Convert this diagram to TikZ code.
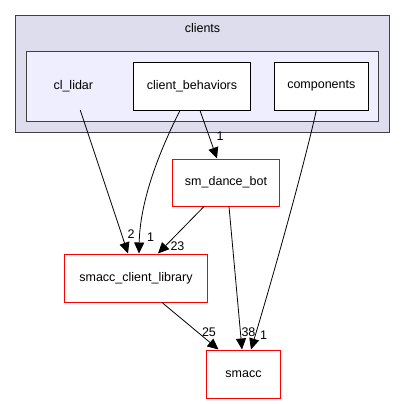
\documentclass[tikz,border=0pt]{standalone}
\usepackage{fontspec}
\setmainfont{Liberation Sans}
\usetikzlibrary{arrows.meta,calc}
\definecolor{outerfill}{HTML}{DDDDEE}
\definecolor{innerfill}{HTML}{EEEEFF}
\definecolor{clborder}{HTML}{404040}
\tikzset{
  lbl/.style={font=\fontsize{12.5bp}{14bp}\selectfont, inner sep=0pt},
  dirbox/.style={draw=black, fill=white, line width=1bp, inner sep=0pt, font=\fontsize{12.5bp}{14bp}\selectfont},
  redbox/.style={draw=red, fill=white, line width=1bp, inner sep=0pt, font=\fontsize{12.5bp}{14bp}\selectfont},
  cluster/.style={draw=clborder, line width=1bp, inner sep=0pt},
  dep/.style={draw=black, line width=0.8bp, -{Triangle[length=11bp,width=10bp]}},
}
\begin{document}
\begin{tikzpicture}[x=1bp,y=-1bp]
\useasboundingbox (0,0) rectangle (405,404);
\node[cluster, fill=outerfill, minimum width=373bp, minimum height=117bp] (outer) at (202.5,74) {};
\node[lbl] (cltitle) at (202.5,28) {clients};
\node[cluster, fill=innerfill, minimum width=352bp, minimum height=70bp] (inner) at (202.5,86.5) {};
\node[lbl, minimum height=48bp] (lidar) at (73.3,86) {cl\_lidar};
\node[dirbox, minimum width=116bp, minimum height=48bp] (cb) at (192,86) {client\_behaviors};
\node[dirbox, minimum width=94bp, minimum height=48bp] (comp) at (321.3,86) {components};
\node[redbox, minimum width=106bp, minimum height=47bp] (sdb) at (226,182.5) {sm\_dance\_bot};
\node[redbox, minimum width=143bp, minimum height=48bp] (scl) at (136,278) {smacc\_client\_library};
\node[redbox, minimum width=73bp, minimum height=48bp] (smacc) at (243.5,374) {smacc};

\draw[dep] ([xshift=7bp]lidar.south) -- ([xshift=-8bp]scl.north);
\draw[dep] ([xshift=-12bp]cb.south) .. controls (160,150) and (140,200) .. ([xshift=3bp]scl.north);
\draw[dep] ([xshift=8bp]cb.south) -- ([xshift=-9bp]sdb.north);
\draw[dep] ([xshift=-22bp]sdb.south) -- ([xshift=22bp]scl.north);
\draw[dep] ([xshift=3bp]sdb.south) -- ([xshift=-1.5bp]smacc.north);
\draw[dep] ([xshift=-5bp]comp.south) .. controls (303,170) and (272,280) .. ([xshift=7.5bp]smacc.north);
\draw[dep] ([xshift=26bp]scl.south) -- ([xshift=-25bp]smacc.north);

\node[lbl] (l1) at (131,234) {2};
\node[lbl] (l2) at (150.5,237) {1};
\node[lbl] (l3) at (220,136) {1};
\node[lbl] (l4) at (177.5,246) {23};
\node[lbl] (l5) at (209,332) {25};
\node[lbl] (l6) at (248.5,332) {38};
\node[lbl] (l7) at (263.5,335) {1};
\end{tikzpicture}
\end{document}
